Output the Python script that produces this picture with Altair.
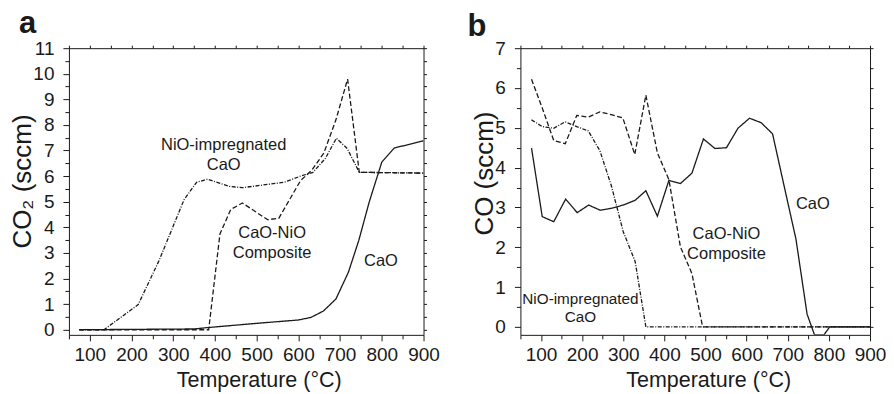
import altair as alt
import pandas as pd

FONT = "Liberation Sans"
INK = "#1a1a1a"

SERIES = ["CaO", "CaO-NiO Composite", "NiO-impregnated CaO"]

# ---------------- Panel a : CO2 (sccm) ----------------
a_cao_T = [75, 350, 380, 500, 600, 630, 660, 690, 720, 745, 770, 800, 830, 900]
a_cao_v = [0, 0.03, 0.08, 0.25, 0.38, 0.48, 0.73, 1.2, 2.25, 3.5, 5.0, 6.55, 7.1, 7.38]

a_comp_T = [75, 385, 412, 438, 466, 526, 553, 605, 633, 661, 690, 718, 746, 900]
a_comp_v = [0, 0, 3.74, 4.7, 4.95, 4.3, 4.35, 5.82, 6.25, 6.9, 8.2, 9.79, 6.15, 6.12]

a_nio_T = [75, 134, 216, 266, 300, 326, 356, 382, 435, 466, 566, 605, 635, 665, 691, 717, 746, 900]
a_nio_v = [0, 0, 0.98, 2.7, 4.05, 5.08, 5.76, 5.88, 5.6, 5.55, 5.76, 6.0, 6.15, 6.7, 7.48, 7.08, 6.15, 6.12]

a_label_text = ["NiO-impregnated\nCaO", "CaO-NiO\nComposite", "CaO"]
a_label_T = [421, 537, 798]
a_label_v = [7.22, 3.78, 2.70]

# ---------------- Panel b : CO (sccm) ----------------
b_cao_T = [77, 103, 131, 160, 188, 216, 244, 272, 300, 329, 355, 383, 411, 439, 467, 495,
           523, 551, 579, 607, 635, 663, 692, 720, 747, 765, 788, 802, 900]
b_cao_v = [4.49, 2.77, 2.64, 3.21, 2.87, 3.06, 2.93, 2.98, 3.06, 3.18, 3.42, 2.78, 3.68, 3.6,
           3.86, 4.72, 4.48, 4.5, 4.99, 5.24, 5.13, 4.85, 3.5, 2.2, 0.32, -0.2, -0.2, 0, 0]

b_comp_T = [77, 103, 131, 159, 187, 215, 243, 271, 299, 328, 355, 383, 411, 439, 467, 493, 900]
b_comp_v = [6.22, 5.5, 4.68, 4.6, 5.31, 5.27, 5.4, 5.33, 5.25, 4.33, 5.82, 4.37, 3.7, 2.01, 1.34, 0, 0]

b_nio_T = [77, 103, 131, 159, 187, 215, 243, 271, 300, 329, 355, 900]
b_nio_v = [5.2, 5.03, 4.99, 5.15, 5.03, 4.92, 4.43, 3.55, 2.39, 1.64, 0, 0]

b_label_text = ["CaO", "CaO-NiO\nComposite", "NiO-impregnated\nCaO"]
b_label_T = [761, 551, 196]
b_label_v = [3.08, 2.33, 0.70]


def series_df(pairs):
    rows = []
    for name, T, v in pairs:
        for i, (t, y) in enumerate(zip(T, v)):
            rows.append({"series": name, "T": t, "v": y, "i": i})
    return pd.DataFrame(rows)


def panel(df, lab_df, ymax, ytitle, title_y, xtitle_x, width, letter, letter_dx, letter_dy,
          small_labels=()):
    xs = alt.Scale(domain=[50, 900], nice=False, zero=False)
    ys = alt.Scale(domain=[-0.2, ymax], nice=False, zero=False)
    xvals = list(range(50, 901, 50))
    yvals = [i / 2 for i in range(0, 2 * ymax + 1)]

    x_axis = alt.Axis(
        values=xvals, title="Temperature (°C)", grid=False,
        labelExpr="datum.value % 100 === 0 && datum.value >= 100 ? format(datum.value, 'd') : ''",
        labelOverlap=False, labelFlush=False,
        tickSize={"condition": {"test": "datum.value % 100 === 0", "value": 6}, "value": 4},
        labelFont=FONT, labelFontSize=19, labelColor=INK, labelPadding=5,
        titleFont=FONT, titleFontSize=21.5, titleFontWeight="normal", titleColor=INK, titlePadding=5,
        titleX=xtitle_x,
        domainColor=INK, tickColor=INK, domainWidth=1, tickWidth=1,
    )
    y_axis = alt.Axis(
        values=yvals, title=ytitle, grid=False,
        labelExpr="datum.value % 1 === 0 ? format(datum.value, 'd') : ''",
        labelOverlap=False, labelFlush=False,
        tickSize={"condition": {"test": "datum.value % 1 === 0", "value": 6}, "value": 4},
        labelFont=FONT, labelFontSize=19, labelColor=INK, labelPadding=9,
        titleFont=FONT, titleFontSize=26, titleFontWeight="normal", titleColor=INK, titlePadding=-3,
        titleY=title_y,
        domainColor=INK, tickColor=INK, domainWidth=1, tickWidth=1,
    )
    top_axis = alt.Axis(orient="top", values=xvals, labels=False, title=None, grid=False,
                        tickSize=3, domainColor=INK, tickColor=INK)
    right_axis = alt.Axis(orient="right", values=yvals, labels=False, title=None, grid=False,
                          tickSize=3, domainColor=INK, tickColor=INK)

    lines = alt.Chart(df).mark_line(color=INK, strokeWidth=1.3, clip=True).encode(
        x=alt.X("T:Q", scale=xs, axis=x_axis),
        y=alt.Y("v:Q", scale=ys, axis=y_axis),
        strokeDash=alt.StrokeDash(
            "series:N",
            scale=alt.Scale(domain=SERIES, range=[[1, 0], [5, 2.5], [4, 1.5, 1, 1.5]]),
            legend=None,
        ),
        order="i:Q",
    )
    frame = alt.Chart(df).mark_point(opacity=0).encode(
        x=alt.X("T:Q", scale=xs, axis=top_axis),
        y=alt.Y("v:Q", scale=ys, axis=right_axis),
    )
    big = lab_df[~lab_df["text"].isin(small_labels)]
    small = lab_df[lab_df["text"].isin(small_labels)]
    layers = [lines, frame]
    for sub, fs, lh in ((big, 16.5, 20), (small, 15.3, 18)):
        if len(sub):
            layers.append(
                alt.Chart(sub).mark_text(
                    font=FONT, fontSize=fs, lineHeight=lh, align="center", baseline="middle",
                    color=INK, lineBreak="\n",
                ).encode(
                    x=alt.X("T:Q", scale=xs, axis=None),
                    y=alt.Y("v:Q", scale=ys, axis=None),
                    text="text:N",
                )
            )
    return alt.layer(*layers).resolve_axis(
        x="independent", y="independent"
    ).properties(
        width=width, height=287,
        title=alt.TitleParams(
            letter, anchor="start", frame="group", dx=letter_dx, dy=letter_dy, offset=0,
            fontSize=31, fontWeight="bold", font=FONT, color=INK, baseline="alphabetic",
        ),
    )


df_a = series_df([(SERIES[0], a_cao_T, a_cao_v), (SERIES[1], a_comp_T, a_comp_v),
                  (SERIES[2], a_nio_T, a_nio_v)])
df_b = series_df([(SERIES[0], b_cao_T, b_cao_v), (SERIES[1], b_comp_T, b_comp_v),
                  (SERIES[2], b_nio_T, b_nio_v)])
lab_a = pd.DataFrame({"text": a_label_text, "T": a_label_T, "v": a_label_v})
lab_b = pd.DataFrame({"text": b_label_text, "T": b_label_T, "v": b_label_v})

pa = panel(df_a, lab_a, 11, "CO₂ (sccm)", 133, 190, 355, "a", -50, 25)
pb = panel(df_b, lab_b, 7, "CO (sccm)", 125, 188, 350, "b", -53, 28,
           small_labels=["NiO-impregnated\nCaO"])

chart = alt.hconcat(pa, pb, spacing=97, bounds="flush").properties(
    padding={"left": 1, "top": 0, "right": 0, "bottom": 0},
    background="white",
).configure_view(stroke=None)

chart.save("out.html", embed_options={"renderer": "svg", "actions": False})
